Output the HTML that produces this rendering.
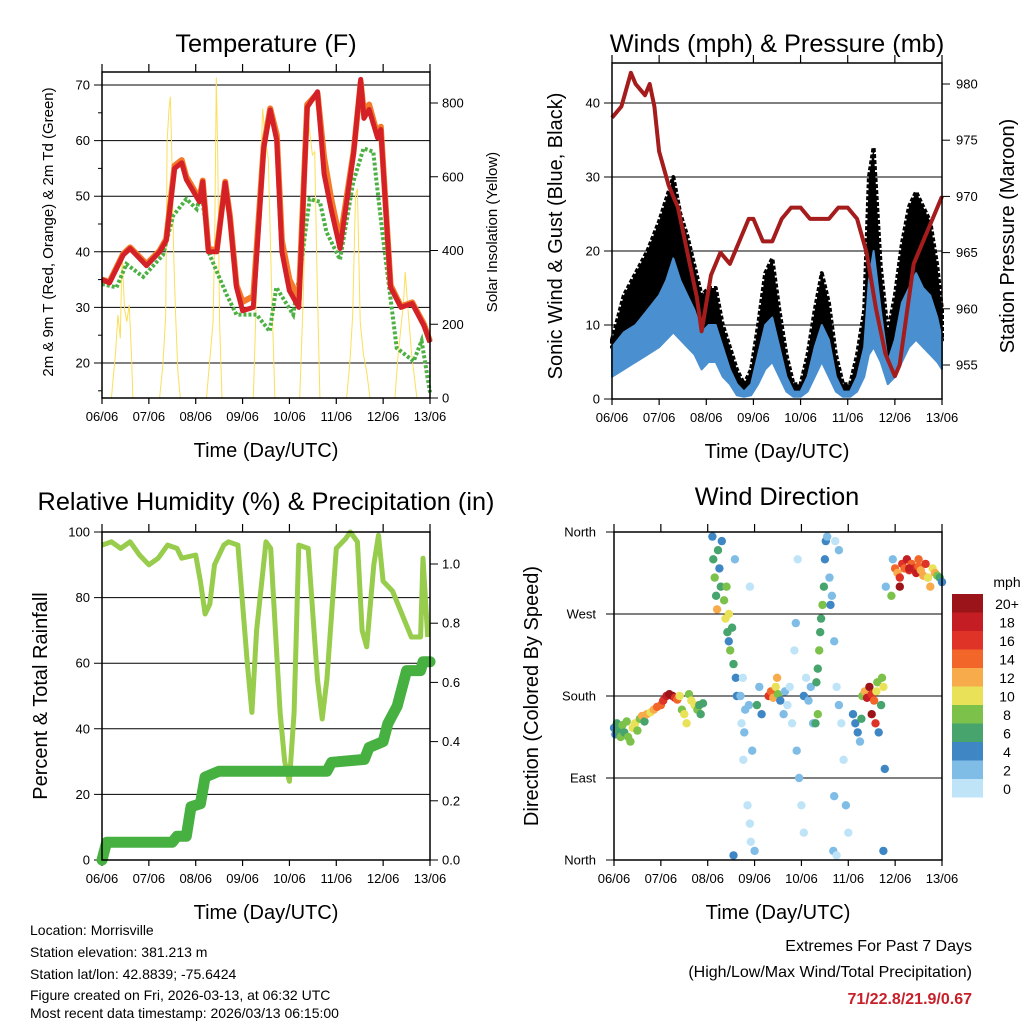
<!DOCTYPE html>
<html><head><meta charset="utf-8"><style>
body{margin:0;background:#fff}
svg{display:block;font-family:"Liberation Sans",Arial,sans-serif}
</style></head><body>
<svg id="c" width="1024" height="1024" viewBox="0 0 1024 1024" xmlns="http://www.w3.org/2000/svg">
<g id="g1"></g>
<g id="g2"></g>
<g id="g3"></g>
<g id="g4"></g>
<g font-size="14" fill="#000">
<text x="30" y="935">Location: Morrisville</text>
<text x="30" y="957">Station elevation: 381.213 m</text>
<text x="30" y="979">Station lat/lon: 42.8839; -75.6424</text>
<text x="30" y="1000">Figure created on Fri, 2026-03-13, at 06:32 UTC</text>
<text x="30" y="1018">Most recent data timestamp: 2026/03/13 06:15:00</text>
</g>
<g text-anchor="end">
<text x="972" y="951" font-size="16">Extremes For Past 7 Days</text>
<text x="972" y="977" font-size="16">(High/Low/Max Wind/Total Precipitation)</text>
<text x="972" y="1004" font-size="16" font-weight="bold" fill="#c8202a">71/22.8/21.9/0.67</text>
</g>
</svg>
<script>
// ---------- data ----------
const dayLabels=["06/06","07/06","08/06","09/06","10/06","11/06","12/06","13/06"];
const tempT=[0,0.16,0.45,0.6,0.95,1.23,1.37,1.55,1.7,1.8,2.08,2.15,2.27,2.45,2.63,2.73,2.87,3.0,3.23,3.45,3.59,3.73,3.84,4.0,4.2,4.38,4.6,4.74,4.88,5.08,5.37,5.52,5.59,5.7,5.88,5.95,6.16,6.38,6.62,6.87,7.0];
const tempRed=[35,34.4,39.4,40.6,37.5,40,42,55,56,53,49,52.6,40,40,52.4,46,33.6,29.4,30,58.6,65.5,60,40,33,30,66,68.8,54,48,40.6,57.7,71,64,65.6,60.5,62,33.6,30,30.7,26.7,23.7];
const tempOrange=[35,34.6,39.6,40.8,37.8,40.2,42.3,55.5,56.5,53.5,49.5,52.8,40.5,40.3,52.6,46.5,34,31,32,59,65.8,61,42,35,31.5,66.5,68.5,57,50,42,58,70.5,65,66.5,61,62.5,34,30.2,30.9,27,23.9];
const dewT=[0,0.31,0.52,0.88,1.3,1.52,1.8,2.02,2.12,2.3,2.66,2.87,3.3,3.58,3.72,4.08,4.26,4.43,4.65,4.79,5.08,5.36,5.58,5.79,5.86,6.0,6.29,6.65,6.82,7.0];
const dewVal=[34.2,33.6,37.8,35.5,39.4,46.5,49.5,47.7,50.7,39.4,32.3,28.7,28.7,25.7,33.6,28.7,38.4,49.5,49,43.6,38.6,52.5,58.6,58,52.5,42.4,22.7,20.3,24,14.7];
const solarT=[0,0.2,0.29,0.34,0.39,0.43,0.48,0.53,0.58,0.63,0.66,1.23,1.3,1.36,1.39,1.43,1.46,1.49,1.53,1.57,1.62,1.67,2.23,2.31,2.37,2.41,2.44,2.47,2.51,2.56,3.23,3.3,3.37,3.43,3.48,3.55,3.62,3.69,4.22,4.29,4.37,4.41,4.49,4.54,4.58,4.65,5.22,5.29,5.35,5.41,5.45,5.51,5.58,5.65,5.72,6.25,6.32,6.43,6.47,6.54,6.61,6.72,7.0];
const solarVal=[0,0,125,225,162,396,243,207,252,117,0,0,89,225,695,785,817,659,388,225,71,0,0,117,207,478,870,659,207,0,0,297,568,785,704,650,297,0,0,252,659,749,659,668,388,0,0,98,225,550,568,207,117,71,0,0,117,252,342,225,117,0,0];
const windT=[0,0.25,0.5,0.75,1.0,1.15,1.3,1.45,1.6,1.75,1.9,2.05,2.2,2.35,2.5,2.65,2.8,2.95,3.1,3.25,3.4,3.55,3.7,3.85,4.0,4.15,4.3,4.45,4.6,4.75,4.9,5.05,5.2,5.35,5.45,5.55,5.7,5.85,6.0,6.15,6.3,6.45,6.6,6.75,6.9,7.0];
const gustVal=[8,14,17,20,24,27,30,25,22,18,14,15,15,10,7,4,2,4,10,17,19,12,6,2,2,6,12,17,13,6,2,2,6,12,30,34,18,9,14,21,26,28,26,24,18,12];
const sonicVal=[7,9,10,12,14,16,19,16,14,12,9,10,10,7,4,2,1,2,6,10,11,7,3,1,1,3,7,10,8,3,1,1,3,7,16,20,12,5,8,13,15,17,15,14,11,8];
const sonicLow=[3,4,5,6,7,8,9,8,7,6,4,5,5,3,2,0.5,0.3,0.5,2,4,5,3,1,0.3,0.3,1,3,5,3,1,0.3,0.3,1,3,6,7,5,2,3,5,7,8,7,6,5,4];
const presT=[0,0.2,0.4,0.5,0.7,0.8,0.9,1.0,1.2,1.4,1.6,1.8,1.9,2.1,2.3,2.5,2.7,2.9,3.0,3.2,3.4,3.6,3.8,4.0,4.2,4.4,4.6,4.8,5.0,5.2,5.4,5.6,5.8,5.9,6.0,6.1,6.2,6.4,6.6,6.8,7.0];
const presVal=[977,978,981,980,979,980,978,974,971,969,965,961,958,963,965,964,966,968,968,966,966,968,969,969,968,968,968,969,969,968,965,960,956,955,954,955,958,964,966,968,970];
const rhT=[0,0.2,0.4,0.6,0.8,1.0,1.2,1.4,1.6,1.7,2.0,2.1,2.2,2.3,2.4,2.6,2.7,2.9,3.1,3.2,3.3,3.5,3.6,3.7,3.8,3.9,4.0,4.1,4.2,4.4,4.6,4.7,4.8,5.0,5.2,5.3,5.45,5.55,5.65,5.8,5.9,6.0,6.2,6.4,6.6,6.8,6.85,6.95];
const rhVal=[96,97,95,97,93,90,92,96,95,92,93,85,75,78,90,96,97,96,60,45,70,97,95,70,45,30,24,45,96,95,55,43,55,95,98,100,97,70,65,90,99,85,82,75,68,68,92,68];
const rainT=[0,0.05,0.1,1.5,1.6,1.8,1.9,2.1,2.2,2.5,4.8,4.9,5.6,5.7,6.0,6.1,6.3,6.5,6.8,6.85,7.0];
const rainVal=[0,0.03,0.06,0.06,0.08,0.08,0.18,0.19,0.28,0.30,0.30,0.33,0.34,0.38,0.40,0.46,0.52,0.64,0.64,0.67,0.67];
const dirT=[0,0.03,0.06,0.1,0.14,0.18,0.22,0.27,0.3,0.35,0.4,0.45,0.5,0.55,0.6,0.65,0.7,0.78,0.85,0.92,1.0,1.05,1.12,1.18,1.25,1.3,1.35,1.4,1.45,1.5,1.55,1.6,1.65,1.72,1.78,1.82,1.85,1.9,
2.1,2.12,2.15,2.18,2.2,2.22,2.25,2.28,2.3,2.35,2.38,2.42,2.45,2.48,2.52,2.55,2.58,2.6,2.62,2.45,2.4,2.55,
2.7,2.72,2.75,2.8,2.85,2.9,2.92,2.88,2.95,3.0,2.78,2.76,2.9,3.05,3.1,3.15,
3.3,3.35,3.4,3.45,3.5,3.48,3.55,3.62,3.65,3.7,3.75,3.8,3.85,3.88,3.9,3.95,4.0,4.05,4.05,4.1,4.15,3.92,4.2,4.25,
4.32,4.35,4.38,4.4,4.42,4.45,4.48,4.5,4.52,4.55,4.35,4.3,
4.6,4.65,4.7,4.75,4.8,4.85,4.9,4.95,5.0,4.68,4.75,4.7,4.62,4.72,4.8,
5.1,5.15,5.2,5.25,5.28,5.3,5.35,5.4,5.45,5.5,5.55,5.6,5.62,5.5,5.58,5.65,5.7,5.72,5.75,5.78,5.8,5.75,
5.95,6.0,6.05,6.1,6.15,6.2,6.25,6.3,6.35,6.4,6.45,6.5,6.55,6.6,6.65,6.7,6.75,6.8,6.85,6.9,6.95,7.0,6.1,6.3,6.5,6.7,5.92];
const dirVal=[145,138,150,142,135,148,140,152,135,130,145,150,142,155,158,152,160,162,165,168,170,175,180,182,180,178,176,180,165,160,150,182,175,170,165,170,160,172,
355,330,310,290,275,340,320,300,350,285,265,250,240,230,255,215,330,200,180,270,300,5,
180,150,200,165,60,40,20,170,120,10,140,110,300,170,190,160,
180,185,178,190,182,200,175,160,185,170,190,150,230,260,120,90,60,180,30,200,175,330,190,150,
195,210,230,250,265,280,300,330,350,355,160,150,
310,290,240,190,170,150,110,60,30,10,5,70,280,350,340,
160,150,140,130,155,180,185,178,190,182,175,185,195,160,150,140,170,200,190,100,300,10,
330,320,315,310,325,320,330,318,325,320,315,322,318,312,325,310,300,320,315,312,310,305,300,320,330,310,290];
const dirSpd=[4,4,6,6,8,8,6,8,8,8,10,10,8,8,12,6,12,10,12,14,14,16,18,20,20,16,14,10,8,10,10,8,10,10,8,6,6,6,
4,6,8,6,12,6,4,6,4,8,10,6,4,8,6,6,2,4,4,10,8,4,
2,0,0,2,0,0,0,2,2,2,2,0,0,6,2,4,
16,14,12,10,8,12,4,2,2,0,0,0,0,2,2,2,0,4,0,0,2,0,2,2,
6,6,8,6,6,8,6,4,4,2,8,6,
2,2,2,0,2,0,0,2,0,2,0,2,4,0,2,
4,4,4,2,6,8,12,18,20,16,14,10,8,20,16,4,6,8,10,4,2,4,
2,14,12,16,16,14,18,16,14,16,18,14,12,12,16,14,12,10,12,8,6,4,20,18,14,10,8];
const legendLabels=["20+","18","16","14","12","10","8","6","4","2","0"];
const legendColors=["#9b1419","#c41e24","#df3328","#f2662a","#f8ab4b","#e9e258","#7cc24a","#47a46c","#3f87c4","#7fbde6","#bfe4f8"];

// ---------- helpers ----------
const NS="http://www.w3.org/2000/svg";
function mk(parent,tag,attrs,text){const e=document.createElementNS(NS,tag);for(const k in attrs)e.setAttribute(k,attrs[k]);if(text!==undefined)e.textContent=text;parent.appendChild(e);return e;}
function lin(d0,d1,r0,r1){return v=>r0+(v-d0)*(r1-r0)/(d1-d0);}
function pts(xs,ys,fx,fy){return xs.map((t,i)=>fx(t).toFixed(1)+","+fy(ys[i]).toFixed(1)).join(" ");}
function band(xs,hi,lo,fx,fy){const a=xs.map((t,i)=>fx(t).toFixed(1)+","+fy(hi[i]).toFixed(1));const b=xs.map((t,i)=>fx(t).toFixed(1)+","+fy(lo[i]).toFixed(1)).reverse();return a.concat(b).join(" ");}
function frame(g,L,R,T,B){
  const r=mk(g,"rect",{x:L,y:T,width:R-L,height:B-T,fill:"none",stroke:"#000","stroke-width":1.5});
  
  
}
function xAxis(g,L,R,T,B){
  const fx=lin(0,7,L,R);
  dayLabels.forEach((lab,i)=>{
    const x=fx(i);
    mk(g,"line",{x1:x,y1:B,x2:x,y2:B+6,stroke:"#000","stroke-width":1.2});
    mk(g,"line",{x1:x,y1:T,x2:x,y2:T-8,stroke:"#000","stroke-width":1.2});
    const t=mk(g,"text",{x:x,y:B+23,"font-size":13,"text-anchor":"middle"},lab);
    
    
  });
  const at=mk(g,"text",{x:(L+R)/2,y:B+59,"font-size":20,"text-anchor":"middle"},"Time (Day/UTC)");
  
  
  return fx;
}
function title(g,x,y,s){const t=mk(g,"text",{x:x,y:y,"font-size":25.3,"text-anchor":"middle"},s);
  
  }
function ytitle(g,x,y,s,fs){const t=mk(g,"text",{x:x,y:y,"font-size":fs,"text-anchor":"middle",transform:"rotate(-90 "+x+" "+y+")"},s);
  
  }
function ylabel(g,x,y,s,anchor){const t=mk(g,"text",{x:x,y:y+4.5,"font-size":13,"text-anchor":anchor},s);
  
  }

// ---------- panel 1: temperature ----------
(function(){
  const g=document.getElementById("g1");const L=102,R=430,T=72,B=398;
  const fy=lin(20,70,363,85), fs=lin(0,800,398,103);
  title(g,266,52,"Temperature (F)");
  const fx=xAxis(g,L,R,T,B);
  [20,30,40,50,60,70].forEach(v=>{const y=fy(v);mk(g,"line",{x1:L-8,y1:y,x2:R,y2:y,stroke:"#000","stroke-width":1});ylabel(g,L-12,y,v,"end");});
  [15,25,35,45,55,65].forEach(v=>{const y=fy(v);mk(g,"line",{x1:L-4,y1:y,x2:L,y2:y,stroke:"#000"});});
  [0,200,400,600,800].forEach(v=>{const y=fs(v);mk(g,"line",{x1:R,y1:y,x2:R+8,y2:y,stroke:"#000"});ylabel(g,R+12,y,v,"start");});
  ytitle(g,53,232,"2m & 9m T (Red, Orange) & 2m Td (Green)",15);
  ytitle(g,497,232,"Solar Insolation (Yellow)",15);
  const cp=mk(g,"clipPath",{id:"cp1"});mk(cp,"rect",{x:L,y:T,width:R-L,height:B-T});
  const s=mk(g,"polyline",{points:pts(solarT,solarVal,fx,fs),fill:"none",stroke:"#fbdf5a","stroke-width":1,"clip-path":"url(#cp1)"});
  
  
  const d=mk(g,"polyline",{points:pts(dewT,dewVal,fx,fy),fill:"none",stroke:"#4cb043","stroke-width":4,"stroke-dasharray":"3 2"});
  
  
  const o=mk(g,"polyline",{points:pts(tempT,tempOrange,fx,fy),fill:"none",stroke:"#f47a2a","stroke-width":6,"stroke-linejoin":"round"});
  
  
  const r=mk(g,"polyline",{points:pts(tempT,tempRed,fx,fy),fill:"none",stroke:"#d42027","stroke-width":5,"stroke-linejoin":"round"});
  
  
  frame(g,L,R,T,B);
})();

// ---------- panel 2: winds ----------
(function(){
  const g=document.getElementById("g2");const L=612,R=942,T=63,B=399;
  const fy=lin(0,40,399,103), fp=lin(955,980,365,84);
  title(g,777,52,"Winds (mph) & Pressure (mb)");
  const fx=xAxis(g,L,R,T,B);
  [0,10,20,30,40].forEach(v=>{const y=fy(v);mk(g,"line",{x1:L-8,y1:y,x2:R,y2:y,stroke:"#000"});ylabel(g,L-12,y,v,"end");});
  [955,960,965,970,975,980].forEach(v=>{const y=fp(v);mk(g,"line",{x1:R,y1:y,x2:R+8,y2:y,stroke:"#000"});ylabel(g,R+14,y,v,"start");});
  ytitle(g,562,236,"Sonic Wind & Gust (Blue, Black)",20);
  ytitle(g,1014,236,"Station Pressure (Maroon)",20);
  const gl=mk(g,"polygon",{points:band(windT,gustVal,sonicVal,fx,fy),fill:"#000",stroke:"#000","stroke-width":4,"stroke-linejoin":"round","stroke-dasharray":"4 2"});
  
  
  const bl=mk(g,"polygon",{points:band(windT,sonicVal,sonicLow,fx,fy),fill:"#4a90d0",stroke:"#4a90d0","stroke-width":2,"stroke-linejoin":"round"});
  
  
  const p=mk(g,"polyline",{points:pts(presT,presVal,fx,fp),fill:"none",stroke:"#a51c1c","stroke-width":4,"stroke-linejoin":"round"});
  
  
  frame(g,L,R,T,B);
})();

// ---------- panel 3: humidity ----------
(function(){
  const g=document.getElementById("g3");const L=102,R=430,T=532,B=860;
  const fy=lin(0,100,860,532), fr=lin(0,1,860,564);
  title(g,266,510,"Relative Humidity (%) & Precipitation (in)");
  const fx=xAxis(g,L,R,T,B);
  [0,20,40,60,80,100].forEach(v=>{const y=fy(v);mk(g,"line",{x1:L-8,y1:y,x2:R,y2:y,stroke:"#000"});ylabel(g,L-12,y,v,"end");});
  [0,0.2,0.4,0.6,0.8,1.0].forEach(v=>{const y=fr(v);mk(g,"line",{x1:R,y1:y,x2:R+8,y2:y,stroke:"#000"});ylabel(g,R+12,y,v.toFixed(1),"start");});
  ytitle(g,47,696,"Percent & Total Rainfall",20);
  const h=mk(g,"polyline",{points:pts(rhT,rhVal,fx,fy),fill:"none",stroke:"#97cc4c","stroke-width":5,"stroke-linejoin":"round"});
  
  
  const rp=mk(g,"polyline",{points:pts(rainT,rainVal,fx,fr),fill:"none",stroke:"#46b041","stroke-width":11,"stroke-linejoin":"round","stroke-linecap":"round"});
  
  
  frame(g,L,R,T,B);
})();

// ---------- panel 4: wind direction ----------
(function(){
  const g=document.getElementById("g4");const L=614,R=942,T=532,B=860;
  const fy=lin(0,360,860,532), fx=lin(0,7,L,R);
  title(g,777,505,"Wind Direction");
  xAxis(g,L,R,T,B);
  const dl=["North","East","South","West","North"];
  dl.forEach((lab,i)=>{const y=fy(i*90);mk(g,"line",{x1:L-8,y1:y,x2:R,y2:y,stroke:"#000"});ylabel(g,L-18,y,lab,"end");});
  ytitle(g,538,696,"Direction (Colored By Speed)",20);
  function col(s){let i=Math.min(10,Math.floor(s/2));return legendColors[10-i];}
  dirT.forEach((t,i)=>{
    const c=mk(g,"circle",{cx:fx(t).toFixed(1),cy:fy(dirVal[i]).toFixed(1),r:4.2,fill:col(dirSpd[i])});
    
    
  });
  frame(g,L,R,T,B);
  const lg=mk(g,"g",{});
  
  
  const mt=mk(lg,"text",{x:1007,y:587,"font-size":14,"text-anchor":"middle"},"mph");
  
  
  legendLabels.forEach((lab,i)=>{
    const y=594+i*18.5;
    const b=mk(lg,"rect",{x:952,y:y,width:31,height:18.5,fill:legendColors[i]});
    
    
    const t=mk(lg,"text",{x:1007,y:y+15,"font-size":14,"text-anchor":"middle"},lab);
    
    
  });
})();
</script>
</body></html>
